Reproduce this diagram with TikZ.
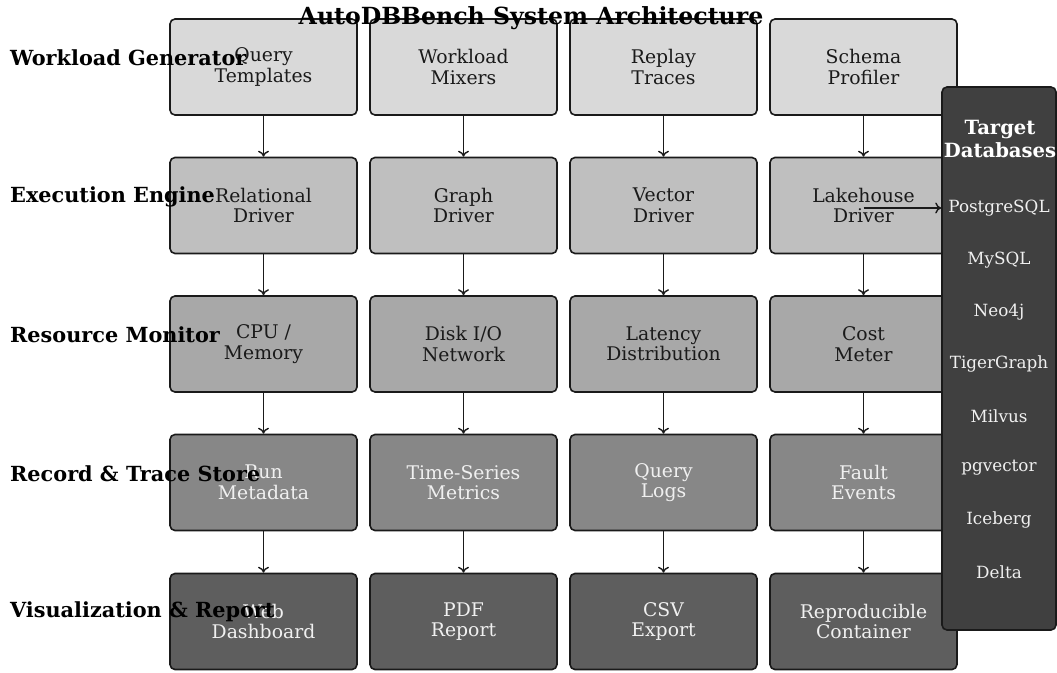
\documentclass[tikz,border=0pt]{standalone}
\usepackage{fontspec}
\setmainfont{DejaVu Serif}
\usetikzlibrary{arrows.meta}
\definecolor{rowA}{HTML}{D9D9D9}
\definecolor{rowB}{HTML}{BFBFBF}
\definecolor{rowC}{HTML}{A8A8A8}
\definecolor{rowD}{HTML}{878787}
\definecolor{rowE}{HTML}{5E5E5E}
\definecolor{panelfill}{HTML}{404040}
\definecolor{inkdark}{HTML}{1A1A1A}
\definecolor{inklight}{HTML}{F0F0F0}
\begin{document}
\begin{tikzpicture}[x=1pt,y=-1pt,
  box/.style={draw=inkdark, line width=1.6pt, rounded corners=5pt,
    minimum width=187pt, minimum height=96pt, inner sep=0pt, align=center,
    font=\fontsize{18.8}{20.5}\selectfont},
  darktext/.style={text=inkdark},
  lighttext/.style={text=inklight},
  flow/.style={draw=inkdark, line width=1.4pt, -{To[length=6pt,width=11pt]}},
  rowlabel/.style={anchor=west, inner sep=0pt, font=\fontsize{20.8}{24}\selectfont\bfseries, text=black},
  dbitem/.style={text=inklight, font=\fontsize{16.8}{20}\selectfont}
]
\useasboundingbox (0,0) rectangle (1057,672);

% layer boxes
\node[box, fill=rowA, darktext] (q)  at (263.5,67) {Query\\Templates};
\node[box, fill=rowA, darktext] (w)  at (463.5,67) {Workload\\Mixers};
\node[box, fill=rowA, darktext] (r)  at (663.5,67) {Replay\\Traces};
\node[box, fill=rowA, darktext] (s)  at (863.5,67) {Schema\\Profiler};

\node[box, fill=rowB, darktext] (rd) at (263.5,205.5) {Relational\\Driver};
\node[box, fill=rowB, darktext] (gd) at (463.5,205.5) {Graph\\Driver};
\node[box, fill=rowB, darktext] (vd) at (663.5,205.5) {Vector\\Driver};
\node[box, fill=rowB, darktext] (ld) at (863.5,205.5) {Lakehouse\\Driver};

\node[box, fill=rowC, darktext] (cpu) at (263.5,344) {CPU /\\Memory};
\node[box, fill=rowC, darktext] (dio) at (463.5,344) {Disk I/O\\Network};
\node[box, fill=rowC, darktext] (lat) at (663.5,344) {Latency\\Distribution};
\node[box, fill=rowC, darktext] (cm)  at (863.5,344) {Cost\\Meter};

\node[box, fill=rowD, lighttext] (rm) at (263.5,482.5) {Run\\Metadata};
\node[box, fill=rowD, lighttext] (ts) at (463.5,482.5) {Time-Series\\Metrics};
\node[box, fill=rowD, lighttext] (ql) at (663.5,482.5) {Query\\Logs};
\node[box, fill=rowD, lighttext] (fe) at (863.5,482.5) {Fault\\Events};

\node[box, fill=rowE, lighttext] (wd) at (263.5,621.5) {Web\\Dashboard};
\node[box, fill=rowE, lighttext] (pr) at (463.5,621.5) {PDF\\Report};
\node[box, fill=rowE, lighttext] (ce) at (663.5,621.5) {CSV\\Export};
\node[box, fill=rowE, lighttext] (rc) at (863.5,621.5) {Reproducible\\Container};

% vertical flow
\foreach \a/\b in {q/rd,rd/cpu,cpu/rm,rm/wd,
                   w/gd,gd/dio,dio/ts,ts/pr,
                   r/vd,vd/lat,lat/ql,ql/ce,
                   s/ld,ld/cm,cm/fe,fe/rc}
  \draw[flow] (\a) -- (\b);

% target databases panel
\node[draw=inkdark, line width=1.6pt, fill=panelfill, rounded corners=5pt,
      minimum width=114pt, minimum height=543pt, inner sep=0pt] (panel) at (999,358.5) {};
\node[text=white, font=\fontsize{19.6}{23}\selectfont\bfseries, align=center] (tgt) at (1000,138.5) {Target\\Databases};
\node[dbitem] (pg) at (999,208) {PostgreSQL};
\node[dbitem] (my) at (999,260) {MySQL};
\node[dbitem] (neo) at (999,312) {Neo4j};
\node[dbitem] (tg) at (999,364) {TigerGraph};
\node[dbitem] (mil) at (999,416) {Milvus};
\node[dbitem] (pgv) at (999,468) {pgvector};
\node[dbitem] (ice) at (999,520) {Iceberg};
\node[dbitem] (del) at (999,572) {Delta};

\coordinate (pgin) at (panel.west |- pg);
\draw[flow] (ld.center |- pg) -- (pgin);

% layer labels
\node[rowlabel] (l1) at (10,58) {Workload Generator};
\node[rowlabel] (l2) at (10,197) {Execution Engine};
\node[rowlabel] (l3) at (10,335) {Resource Monitor};
\node[rowlabel] (l4) at (10,474) {Record \& Trace Store};
\node[rowlabel] (l5) at (10,612) {Visualization \& Report};

% title
\node[font=\fontsize{23.6}{26}\selectfont\bfseries, text=black] (title) at (531,18) {AutoDBBench System Architecture};
\end{tikzpicture}
\end{document}
